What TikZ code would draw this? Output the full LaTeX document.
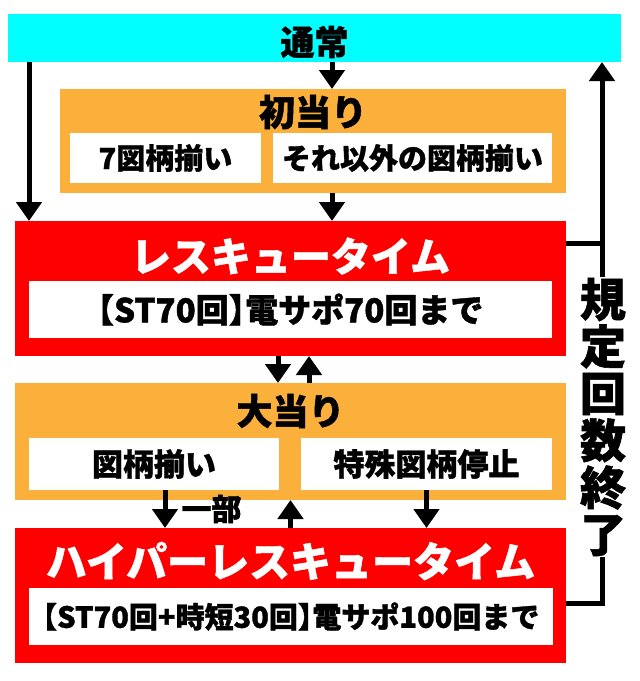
\documentclass[tikz,border=0pt]{standalone}
\usepackage{fontspec}
\usepackage{tikz}
\usetikzlibrary{arrows.meta}
\setmainfont{Noto Sans CJK JP}[BoldFeatures={FakeBold=1.2}]
\definecolor{normalcyan}{HTML}{00FFFF}
\definecolor{hitorange}{HTML}{FBB03B}
\definecolor{rushred}{HTML}{FF0000}
\newcommand{\openbr}{\kern-.5em【}
\newcommand{\closebr}{】\kern-.5em}

\begin{document}
\begin{tikzpicture}[x=1pt, y=-1pt,
        panel/.style={rectangle, inner sep=0pt, outer sep=0pt},
        headtext/.style={inner sep=0pt, font=\bfseries\fontsize{#1}{#1}\selectfont},
        arr/.style={line width=5pt, -{Triangle[width=25pt,length=19pt]}},
        link/.style={line width=5pt}]
        \useasboundingbox[fill=white] (0,0) rectangle (640,681);

        \node (normal) [panel, fill=normalcyan, minimum width=613pt, minimum height=48pt] at (314.5,38) {};
        \node (normaltxt) [headtext=34] at (314.5,42) {通常};

        \node (first) [panel, fill=hitorange, minimum width=506pt, minimum height=104pt] at (313,141) {};
        \node (firsttxt) [headtext=36] at (313,112) {初当り};
        \node (seven) [panel, fill=white, minimum width=191pt, minimum height=50pt, headtext=29] at (165.5,158) {7図柄揃い};
        \node (other) [panel, fill=white, minimum width=279pt, minimum height=50pt, headtext=29] at (412.5,158) {それ以外の図柄揃い};

        \node (rescue) [panel, fill=rushred, minimum width=551pt, minimum height=135pt] at (290.5,288.5) {};
        \node (rescuetxt) [headtext=40, text=white] at (290.5,256) {レスキュータイム};
        \node (rescuesub) [panel, fill=white, minimum width=523pt, minimum height=57pt, headtext=33] at (290.5,309.5) {\openbr ST70回\closebr 電サポ70回まで};

        \node (big) [panel, fill=hitorange, minimum width=551pt, minimum height=117pt] at (290.5,441.5) {};
        \node (bigtxt) [headtext=36] at (290.5,411) {大当り};
        \node (match) [panel, fill=white, minimum width=250pt, minimum height=52pt, headtext=31] at (154,464) {図柄揃い};
        \node (special) [panel, fill=white, minimum width=251pt, minimum height=52pt, headtext=31] at (426.5,464) {特殊図柄停止};

        \node (hyper) [panel, fill=rushred, minimum width=551pt, minimum height=135pt] at (290.5,595.5) {};
        \node (hypertxt) [headtext=41, text=white] at (290.5,561) {ハイパーレスキュータイム};
        \node (hypersub) [panel, fill=white, minimum width=524pt, minimum height=57pt, headtext=29] at (291,616.5) {\openbr ST70回+時短30回\closebr 電サポ100回まで};

        \node (limit) [headtext=46, align=center, font=\bfseries\fontsize{46}{47}\selectfont] at (603,417) {規\\定\\回\\数\\終\\了};
        \coordinate (limtop) at (602,277);
        \coordinate (limbot) at (602,557);

        \draw[arr] ([xshift=17.5pt]normal.south) -- ([xshift=17.5pt]normal.south |- first.north);
        \draw[arr] ([xshift=14pt]normal.south -| rescue.west) -- ([xshift=14pt]rescue.north west);
        \draw[arr] ([xshift=19pt]first.south) -- ([xshift=19pt]first.south |- rescue.north);
        \draw[arr] ([xshift=-12.5pt]rescue.south) -- ([xshift=-12.5pt]rescue.south |- big.north);
        \draw[arr] ([xshift=18.5pt]big.north) -- ([xshift=18.5pt]big.north |- rescue.south);
        \draw[arr] ([xshift=11pt]match.south) -- ([xshift=11pt]match.south |- hyper.north)
            node (part) [headtext=30, midway, right=14pt] {一部};
        \draw[arr] (hyper.north) -- (big.south);
        \draw[arr] (special.south) -- (special.south |- hyper.north);
        \draw[link] ([yshift=-22pt]rescue.north east) -| (limtop);
        \draw[arr] (limtop) -- (limtop |- normal.south);
        \draw[link] ([yshift=-7.5pt]hyper.east) -| (limbot);
    \end{tikzpicture}
\end{document}
